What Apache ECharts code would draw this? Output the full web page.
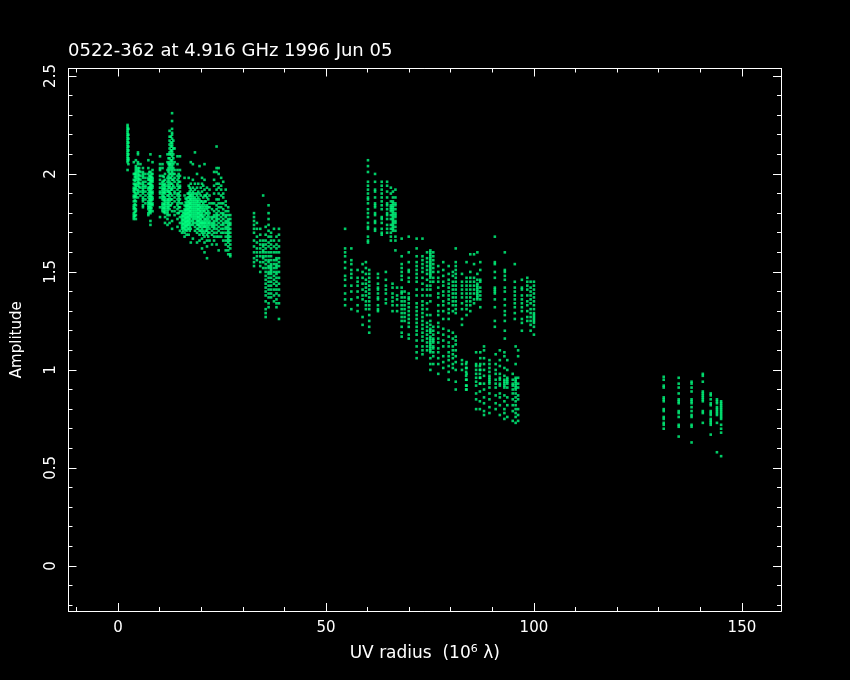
<!DOCTYPE html>
<html><head><meta charset="utf-8">
<style>html,body{margin:0;background:#000}#c{width:850px;height:680px}</style>
<script src="https://cdn.jsdelivr.net/npm/echarts@6/dist/echarts.min.js"></script>
</head><body><div id="c"></div>
<script>
const titleText = '0522-362 at 4.916 GHz 1996 Jun 05';
const xMajor = [0,50,100,150];
const xMinor = [-10,10,20,30,40,60,70,80,90,110,120,130,140];
const yMajor = [0,0.5,1,1.5,2,2.5];
const yMinor = [-0.2,-0.1,0.1,0.2,0.3,0.4,0.6,0.7,0.8,0.9,1.1,1.2,1.3,1.4,1.6,1.7,1.8,1.9,2.1,2.2,2.3,2.4];
// each column: first number = UV radius, the rest = amplitudes
const clusterA = [
[2.3,2.25,2.24,2.23,2.22,2.21,2.2,2.19,2.18,2.17,2.16,2.15,2.14,2.13,2.12,2.11,2.1,2.09,2.08,2.07,2.06,2.02],
[2.5,2.23,2.2,2.18,2.16,2.14,2.12,2.1,2.08,2.07,2.05]];
const clusterB = [
[3.8,2.06,2.0,1.97,1.95,1.93,1.92,1.91,1.89,1.88,1.86,1.84,1.83,1.82,1.8,1.79,1.78,1.77],
[4.3,2.07,2.04,2.03,2.02,2.01,2.0,1.99,1.98,1.97,1.95,1.94,1.93,1.92,1.9,1.89,1.88,1.86,1.84,1.82,1.81,1.79,1.77],
[4.8,2.11,2.1,2.06,2.05,2.03,2.02,2.01,2.0,1.99,1.98,1.97,1.96,1.95,1.94,1.92,1.91,1.9,1.88],
[5.4,2.05,2.01,1.99,1.97,1.95,1.93,1.91,1.89],
[6.0,2.03,2.01,2.0,1.99,1.98,1.96,1.95,1.94,1.93,1.92,1.91,1.9,1.88,1.87,1.86,1.84,1.83],
[6.6,2.0,1.98,1.96,1.94,1.93,1.91,1.89,1.87,1.85],
[7.3,2.07,2.03,2.0,1.98,1.97,1.95,1.93,1.92,1.9,1.88,1.86,1.85,1.84,1.83,1.82,1.8,1.79],
[7.8,2.1,2.01,1.99,1.98,1.97,1.96,1.95,1.94,1.93,1.92,1.91,1.9,1.89,1.88,1.87,1.86,1.85,1.84,1.83,1.82,1.81,1.8,1.76,1.74],
[8.3,2.06,2.02,2.0,1.98,1.97,1.96,1.94,1.93,1.91,1.9,1.88,1.87,1.85,1.84,1.81]];
const clusterB2 = [
[4.05,2.0,1.985,1.965,1.945,1.925,1.905,1.885,1.865,1.845,1.825,1.805,1.785],
[5.1,2.03,2.015,1.995,1.975,1.955,1.935],
[7.55,2.01,1.99,1.97,1.95,1.93,1.91,1.89,1.87,1.85,1.83,1.81],
[8.05,2.0,1.985,1.965,1.945,1.925,1.905,1.885,1.865,1.845,1.825]];
const clusterC = [
[10.1,2.09,2.05,2.03,2.02,1.99,1.97,1.95,1.93,1.91,1.9,1.88,1.83,1.78],
[10.7,2.05,2.03,1.99,1.96,1.95,1.94,1.93,1.92,1.91,1.9,1.89,1.88,1.87,1.85,1.84,1.83,1.82,1.81],
[11.3,2.0,1.97,1.95,1.94,1.93,1.92,1.91,1.9,1.88,1.87,1.86,1.85,1.84,1.83,1.82,1.81,1.8,1.78,1.75],
[11.9,2.1,2.06,2.02,1.98,1.96,1.94,1.92,1.91,1.89,1.87,1.86,1.85,1.84,1.83,1.82,1.81,1.8,1.79,1.77,1.74],
[12.4,2.22,2.19,2.17,2.15,2.13,2.11,2.1,2.08,2.06,2.05,2.04,2.02,2.0,1.98,1.96,1.94,1.93,1.91,1.9,1.88,1.86,1.84,1.82,1.79,1.75],
[13,2.31,2.27,2.23,2.21,2.2,2.18,2.16,2.15,2.14,2.12,2.11,2.09,2.07,2.06,2.04,2.02,2.01,1.99,1.97,1.95,1.93,1.92,1.89,1.87,1.85,1.81,1.76,1.72],
[13.6,2.13,2.06,2.02,2,1.98,1.96,1.93,1.91,1.9,1.88,1.86,1.83,1.81,1.79],
[14.3,2.09,2.05,2.02,1.99,1.97,1.95,1.94,1.92,1.9,1.89,1.87,1.85,1.84,1.82,1.8,1.77,1.73],
[14.9,2.09,2.02,1.99,1.96,1.94,1.93,1.91,1.89,1.87,1.85,1.83,1.81,1.78,1.75,1.71]];
const clusterC2 = [
[11,1.985,1.965,1.945,1.925,1.905,1.885,1.865,1.845,1.825,1.805],
[12.15,2.08,2.05,2.03,2.01,1.99,1.97,1.95,1.93,1.91,1.89,1.87,1.85,1.83],
[12.7,2.19,2.16,2.14,2.12,2.1,2.07,2.05,2.03,2.0,1.98,1.95,1.92,1.9,1.87,1.84],
[13.3,2.17,2.13,2.1,2.08,2.05,2.03,2.0,1.97,1.94],
[14.6,2.0,1.98,1.96,1.93,1.9,1.88,1.86,1.83,1.8]];
const clusterD = [
[15.4,1.85,1.81,1.79,1.78,1.77,1.76,1.75,1.74,1.73,1.72,1.7],
[16,1.98,1.89,1.84,1.82,1.81,1.8,1.79,1.78,1.77,1.76,1.75,1.74,1.73,1.72,1.7,1.68],
[16.5,1.87,1.85,1.84,1.83,1.82,1.81,1.8,1.79,1.78,1.77,1.76,1.75,1.74,1.73,1.71,1.69],
[17,1.98,1.94,1.9,1.88,1.86,1.85,1.84,1.83,1.82,1.81,1.8,1.79,1.78,1.77,1.76,1.75,1.74,1.72,1.69],
[17.5,2.06,1.95,1.92,1.9,1.89,1.88,1.87,1.86,1.85,1.84,1.83,1.82,1.81,1.8,1.79,1.78,1.76,1.74,1.72,1.65],
[18,2.05,1.97,1.93,1.91,1.9,1.89,1.88,1.87,1.86,1.85,1.84,1.83,1.82,1.81,1.8,1.79,1.78,1.77,1.76,1.75,1.74,1.67],
[18.5,2.11,1.95,1.92,1.9,1.88,1.87,1.86,1.85,1.84,1.83,1.82,1.81,1.8,1.79,1.78,1.77,1.75,1.73,1.71],
[19,2.0,1.93,1.9,1.89,1.87,1.86,1.85,1.84,1.83,1.82,1.81,1.8,1.79,1.78,1.77,1.76,1.75,1.74,1.72,1.7,1.65],
[19.6,2.04,1.9,1.87,1.85,1.84,1.83,1.82,1.81,1.8,1.79,1.78,1.77,1.76,1.75,1.74,1.73,1.71,1.69,1.66],
[20.2,1.98,1.95,1.91,1.86,1.84,1.82,1.8,1.79,1.78,1.76,1.75,1.74,1.72,1.7,1.67,1.62],
[20.8,2.05,1.97,1.92,1.89,1.86,1.84,1.82,1.81,1.79,1.77,1.76,1.75,1.74,1.73,1.7,1.68,1.65,1.6],
[21.4,1.93,1.9,1.88,1.84,1.82,1.8,1.78,1.76,1.74,1.72,1.71,1.69,1.66,1.63,1.57],
[22,1.92,1.89,1.85,1.83,1.8,1.78,1.76,1.75,1.74,1.72,1.7,1.66]];
const clusterD2 = [
[15.7,1.8,1.785,1.765,1.745,1.725,1.71],
[16.25,1.875,1.855,1.835,1.815,1.795,1.775,1.755,1.735,1.715],
[16.75,1.9,1.88,1.86,1.84,1.82,1.8,1.78,1.76,1.74,1.72],
[17.25,1.93,1.91,1.89,1.87,1.85,1.83,1.81,1.79,1.77,1.75,1.73,1.71],
[19.3,1.95,1.91,1.88,1.86,1.84,1.82,1.8,1.78,1.76,1.74,1.72],
[19.9,1.93,1.89,1.86,1.83,1.81,1.79,1.77,1.75,1.73,1.71],
[20.5,1.94,1.88,1.85,1.83,1.81,1.78,1.75,1.73,1.71,1.69],
[21.1,1.89,1.86,1.83,1.8,1.77,1.75,1.73,1.71],
[21.7,1.87,1.83,1.81,1.79,1.77,1.75,1.73,1.7,1.68]];
const clusterE = [
[22.6,1.85,1.82,1.78,1.77,1.75,1.74,1.73,1.71,1.69,1.64],
[23.1,2.01,1.97,1.94,1.9,1.85,1.81,1.79,1.78,1.76,1.75,1.74,1.73,1.72,1.7,1.68,1.66],
[23.7,2.14,2.03,2.01,1.95,1.92,1.87,1.84,1.82,1.8,1.79,1.78,1.77,1.76,1.74,1.72,1.7,1.68,1.64],
[24.2,2.03,2.0,1.95,1.93,1.9,1.87,1.85,1.83,1.81,1.79,1.77,1.75,1.73,1.71,1.68,1.61],
[24.8,1.98,1.94,1.92,1.89,1.85,1.83,1.8,1.78,1.76,1.74,1.72,1.7,1.68],
[25.3,1.96,1.9,1.88,1.85,1.82,1.8,1.79,1.77,1.75,1.74,1.72,1.7,1.66],
[25.9,1.92,1.86,1.84,1.81,1.79,1.78,1.76,1.75,1.73,1.72,1.7,1.68,1.66,1.64,1.61],
[26.5,1.83,1.81,1.79,1.77,1.76,1.75,1.74,1.73,1.72,1.71,1.7,1.69,1.68,1.67,1.66,1.65,1.63,1.61,1.59],
[27,1.79,1.77,1.75,1.74,1.72,1.7,1.68,1.66,1.64,1.62,1.59,1.58]];
const clusterF = [
[32.7,1.8,1.78,1.76,1.74,1.72,1.7,1.66,1.63,1.6,1.57,1.55,1.53],
[33.4,1.75,1.72,1.68,1.65,1.62,1.6,1.58,1.56],
[34.2,1.72,1.69,1.66,1.64,1.62,1.6,1.58,1.55,1.53,1.5],
[34.9,1.89,1.66,1.64,1.63,1.61,1.6,1.58,1.57,1.55,1.52],
[35.5,1.73,1.69,1.66,1.64,1.62,1.6,1.58,1.56,1.54,1.52,1.5,1.48,1.46,1.44,1.42,1.4,1.38,1.35,1.31,1.29,1.27],
[36.2,1.84,1.8,1.77,1.74,1.71,1.68,1.65,1.63,1.6,1.58,1.56,1.55,1.53,1.52,1.5,1.49,1.47,1.45,1.43,1.41,1.39,1.37,1.34,1.32],
[36.8,1.7,1.68,1.66,1.64,1.62,1.6,1.58,1.56,1.54,1.53,1.52,1.51,1.5,1.49,1.47,1.45,1.43,1.41,1.39,1.37],
[37.5,1.72,1.66,1.63,1.6,1.56,1.54,1.52,1.5,1.48,1.46,1.44,1.41,1.38,1.35],
[38.1,1.68,1.64,1.62,1.6,1.57,1.56,1.54,1.53,1.52,1.5,1.49,1.47,1.45,1.43,1.41,1.39,1.36,1.34,1.32],
[38.7,1.72,1.69,1.66,1.63,1.6,1.57,1.55,1.53,1.5,1.47,1.44,1.41,1.38,1.34,1.26]];
const clusterG = [
[54.6,1.72,1.62,1.6,1.58,1.55,1.52,1.48,1.46,1.43,1.39,1.36,1.33],
[56.1,1.62,1.56,1.54,1.51,1.49,1.47,1.43,1.4,1.36,1.31],
[57.6,1.51,1.47,1.45,1.43,1.4,1.37,1.33,1.3],
[58.8,1.54,1.5,1.47,1.44,1.41,1.38,1.36,1.27,1.23],
[59.6,1.55,1.52,1.49,1.46,1.44,1.42,1.4,1.38,1.35,1.33,1.31],
[60.4,1.51,1.49,1.47,1.45,1.43,1.41,1.39,1.37,1.35,1.33,1.31,1.28,1.25,1.22,1.19]];
const clusterH = [
[60.1,2.07,2.04,2.01,1.96,1.94,1.92,1.9,1.88,1.87,1.85,1.82,1.8,1.78,1.75,1.73,1.72,1.68,1.66,1.65],
[61.8,2.0,1.96,1.92,1.91,1.88,1.85,1.84,1.83,1.8,1.79,1.76,1.75,1.72,1.71],
[63.4,1.96,1.94,1.92,1.9,1.88,1.86,1.84,1.82,1.78,1.77,1.75,1.72,1.7,1.69],
[64.7,1.96,1.94,1.91,1.88,1.85,1.84,1.82,1.8,1.79,1.77,1.74,1.72,1.7],
[65.6,1.93,1.9,1.86,1.84,1.83,1.82,1.81,1.79,1.77,1.74,1.72,1.7,1.68,1.66],
[66.1,1.91,1.88,1.86,1.85,1.84,1.83,1.82,1.81,1.8,1.79,1.78,1.77,1.76,1.75,1.74,1.73,1.72,1.71],
[66.7,1.92,1.88,1.85,1.84,1.82,1.8,1.79,1.78,1.76,1.75,1.73,1.71,1.68,1.66,1.61]];
const clusterI = [
[62.5,1.49,1.47,1.44,1.42,1.41,1.39,1.37,1.36,1.33,1.31,1.3],
[64.4,1.5,1.46,1.43,1.41,1.39,1.36,1.34],
[66,1.44,1.42,1.39,1.37,1.35,1.33,1.3],
[67.1,1.42,1.38,1.36,1.33,1.3],
[68.2,1.67,1.58,1.54,1.52,1.5,1.48,1.46,1.42,1.4,1.39,1.37,1.35,1.33,1.31,1.29,1.27,1.25,1.22,1.19,1.17],
[68.9,1.4,1.37,1.35,1.33,1.31,1.29,1.27,1.25],
[69.9,1.68,1.6,1.55,1.51,1.5,1.47,1.45,1.39,1.37,1.36,1.34,1.32,1.3,1.28,1.26,1.24,1.22,1.18,1.16],
[71.8,1.67,1.62,1.58,1.55,1.53,1.51,1.49,1.47,1.45,1.41,1.38,1.34,1.32,1.3,1.28,1.26,1.24,1.22,1.2,1.18,1.15,1.12,1.09,1.06],
[73.2,1.67,1.58,1.56,1.54,1.52,1.5,1.47,1.44,1.41,1.38,1.35,1.33,1.31,1.29,1.27,1.25,1.23,1.21,1.19,1.17,1.15,1.12,1.1,1.08],
[74.3,1.6,1.57,1.55,1.53,1.51,1.49,1.46,1.43,1.41,1.38,1.34,1.31,1.28,1.24,1.22,1.2,1.18,1.16,1.14,1.12,1.1],
[75.1,1.61,1.6,1.59,1.58,1.57,1.56,1.55,1.54,1.53,1.52,1.51,1.5,1.49,1.48,1.47,1.45,1.43,1.41,1.38,1.35,1.28,1.25,1.23,1.21,1.2,1.19,1.17,1.16,1.15,1.14,1.13,1.12,1.11,1.1,1.09,1.06,1.03,1.0],
[75.8,1.6,1.58,1.56,1.54,1.52,1.5,1.47,1.45,1.22,1.2,1.18,1.16,1.15,1.14,1.12,1.11,1.09,1.07,1.03],
[77,1.53,1.5,1.47,1.45,1.42,1.39,1.37,1.33,1.3,1.28,1.24,1.22,1.19,1.16,1.14,1.11,1.09,1.06,1.03,0.98],
[78.2,1.55,1.51,1.48,1.45,1.43,1.4,1.38,1.35,1.33,1.3,1.26,1.21,1.18,1.15,1.12,1.07,1.04,1.01],
[79.5,1.53,1.49,1.46,1.44,1.42,1.4,1.38,1.36,1.34,1.31,1.29,1.26,1.2,1.17,1.14,1.12,1.09,1.07,1.05,1.02,0.99,0.95],
[80.5,1.5,1.48,1.45,1.43,1.41,1.39,1.37,1.35,1.33,1.3,1.19,1.16,1.12,1.1,1.08,1.06,1.03,1.01],
[81.2,1.62,1.55,1.53,1.51,1.49,1.47,1.45,1.43,1.41,1.39,1.37,1.35,1.33,1.31,1.29,1.17,1.15,1.13,1.1,1.07,1.04,1.0,0.94,0.9],
[82.7,1.49,1.45,1.43,1.41,1.39,1.37,1.34,1.31,1.26,1.23,1.05,1.03,1.0],
[83.8,1.55,1.47,1.45,1.43,1.41,1.39,1.37,1.35,1.33,1.31,1.28,1.04,1.01,0.98,0.95,0.92,0.9],
[84.7,1.59,1.5,1.47,1.45,1.43,1.41,1.39,1.37,1.35,1.33,1.3],
[85.6,1.59,1.54,1.47,1.45,1.43,1.41,1.39,1.36,1.34],
[86.4,1.6,1.49,1.46,1.44,1.43,1.42,1.41,1.4,1.39,1.38,1.37,1.36],
[87.1,1.55,1.51,1.46,1.45,1.42,1.4,1.38,1.36,1.32,1.09,1.06,1.03,1.0,0.96,0.93],
[90.6,1.68,1.55,1.54,1.5,1.47,1.42,1.41,1.4,1.39,1.36,1.32,1.25,1.22],
[93,1.6,1.51,1.5,1.48,1.46,1.42,1.4,1.36,1.33,1.3,1.28,1.25,1.2,1.16],
[95.4,1.54,1.45,1.42,1.4,1.38,1.36,1.34,1.32,1.29,1.26],
[97.1,1.46,1.42,1.41,1.38,1.36,1.34,1.32,1.3,1.26,1.24,1.2],
[98.4,1.47,1.45,1.43,1.41,1.38,1.35,1.33,1.3,1.27,1.25],
[99.2,1.45,1.42,1.4,1.38,1.36,1.34,1.31,1.29,1.27,1.25,1.23,1.2],
[100,1.45,1.43,1.41,1.39,1.37,1.35,1.33,1.31,1.29,1.28,1.27,1.26,1.25,1.24,1.22,1.18]];
const clusterJ = [
[83.7,1.03,1.01,0.99,0.97,0.95,0.92,0.9],
[86.1,1.09,1.03,1.02,1.0,0.98,0.96,0.94,0.92,0.88,0.85,0.8],
[87,1.02,1.0,0.98,0.96,0.93,0.89,0.84,0.8],
[88,1.12,1.1,1.06,1.03,1.0,0.97,0.93,0.9,0.86,0.83,0.79,0.77],
[89.3,1.05,1.03,1.01,0.99,0.97,0.96,0.95,0.94,0.93,0.91,0.88,0.85,0.81,0.78],
[90.8,1.08,1.03,1.0,0.98,0.95,0.93,0.91,0.87,0.83,0.8],
[91.8,1.1,1.05,1.02,0.98,0.96,0.95,0.93,0.92,0.88,0.86,0.82,0.77],
[92.9,1.09,1.07,1.01,0.97,0.95,0.94,0.93,0.92,0.91,0.87,0.84,0.8,0.78,0.75],
[93.6,1.05,1.0,0.96,0.95,0.94,0.93,0.91,0.86,0.82,0.76],
[94.9,0.98,0.95,0.93,0.92,0.9,0.88,0.85,0.82,0.79,0.74],
[95.6,1.12,1.03,0.96,0.95,0.94,0.93,0.92,0.91,0.9,0.88,0.86,0.84,0.82,0.8,0.78,0.76,0.73],
[96.2,1.1,1.07,0.96,0.93,0.91,0.87,0.85,0.8,0.77,0.74]];
const clusterK = [
[131.2,0.965,0.95,0.92,0.91,0.86,0.85,0.84,0.8,0.79,0.76,0.75,0.73,0.72,0.7],
[134.8,0.96,0.93,0.91,0.88,0.85,0.84,0.83,0.79,0.78,0.76,0.72,0.71,0.66],
[137.9,0.94,0.93,0.91,0.89,0.85,0.84,0.83,0.81,0.79,0.77,0.76,0.72,0.71,0.63],
[140.6,0.98,0.97,0.94,0.89,0.88,0.87,0.86,0.85,0.84,0.79,0.78,0.73],
[142.5,0.88,0.87,0.85,0.83,0.82,0.79,0.78,0.77,0.75,0.74,0.73,0.72,0.67],
[144,0.85,0.84,0.83,0.81,0.8,0.79,0.78,0.77,0.73,0.58],
[145,0.84,0.83,0.82,0.81,0.8,0.79,0.78,0.77,0.76,0.75,0.72,0.7,0.68,0.56]];
const allClusters = [clusterA,clusterB,clusterB2,clusterC,clusterC2,clusterD,clusterD2,clusterE,clusterF,clusterG,clusterH,clusterI,clusterJ,clusterK];

const points = [];
allClusters.forEach(cl => cl.forEach(col => col.slice(1).forEach(y => points.push([col[0], y]))));

const XMIN=-11.9, XMAX=159.4, YMIN=-0.23, YMAX=2.538;
const FONT='"DejaVu Sans"', WHITE='#fff';
const line={show:true,onZero:false,lineStyle:{color:WHITE,width:1}};
function xa(pos,grid,vals,len,lab){return {type:'value',gridIndex:grid,position:pos,min:XMIN,max:XMAX,splitLine:{show:false},axisLine:line,
  axisTick:{show:true,inside:true,length:len,customValues:vals,lineStyle:{color:WHITE,width:1}},
  axisLabel:lab?{show:true,customValues:vals,color:WHITE,fontFamily:FONT,fontSize:15,margin:10}:{show:false}};}
function ya(pos,grid,vals,len,lab){return {type:'value',gridIndex:grid,position:pos,min:YMIN,max:YMAX,splitLine:{show:false},axisLine:line,
  axisTick:{show:true,inside:true,length:len,customValues:vals,lineStyle:{color:WHITE,width:1}},
  axisLabel:lab?{show:true,customValues:vals,rotate:90,color:WHITE,fontFamily:FONT,fontSize:15,margin:10,formatter:v=>String(v)}:{show:false}};}
const g={left:68.5,top:68.5,width:712.5,height:542.5};
const xBottom=xa('bottom',0,xMajor,8,true);
xBottom.name='{a|UV radius  (10}{s|6}{a| λ)}';xBottom.nameLocation='middle';xBottom.nameGap=33;
xBottom.nameTextStyle={rich:{a:{color:WHITE,fontFamily:FONT,fontSize:17},s:{color:WHITE,fontFamily:FONT,fontSize:11,padding:[0,0,9,0]}}};
const yLeft=ya('left',0,yMajor,8,true);
yLeft.name='Amplitude';yLeft.nameLocation='middle';yLeft.nameGap=44;yLeft.nameRotate=90;
yLeft.nameTextStyle={color:WHITE,fontFamily:FONT,fontSize:15};
const opt={animation:false,backgroundColor:'#000',
 title:{text:titleText,left:63,top:37,textStyle:{color:WHITE,fontFamily:FONT,fontSize:18,fontWeight:'normal'}},
 grid:[g,g],
 xAxis:[xBottom,xa('top',0,xMajor,8,false),xa('bottom',1,xMinor,4,false),xa('top',1,xMinor,4,false)],
 yAxis:[yLeft,ya('right',0,yMajor,8,false),ya('left',1,yMinor,4,false),ya('right',1,yMinor,4,false)],
 series:[{type:'scatter',xAxisIndex:0,yAxisIndex:0,data:points,symbol:'rect',symbolSize:2.6,silent:true,itemStyle:{color:'#00ff80'}}]};
echarts.init(document.getElementById('c'),null,{renderer:'canvas'}).setOption(opt);
</script></body></html>
